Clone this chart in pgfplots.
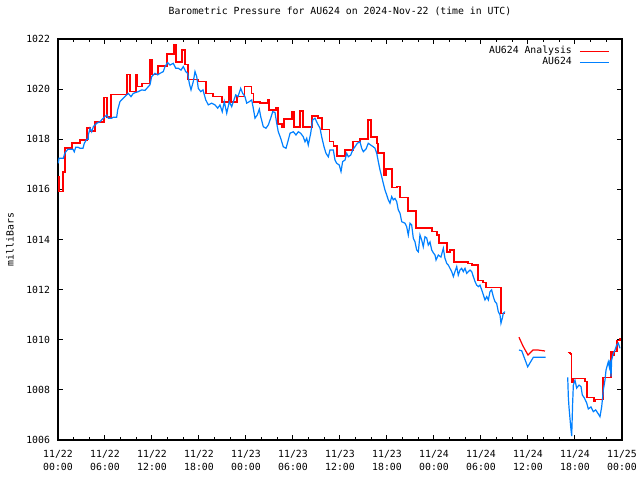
\documentclass[border=0pt]{standalone}
\usepackage{fontspec}
\setmainfont{DejaVu Sans Mono}
\usepackage{pgfplots}
\pgfplotsset{compat=1.18}
\definecolor{anared}{RGB}{255,0,0}
\definecolor{obsblue}{RGB}{0,128,255}
\begin{document}
\begin{tikzpicture}
\begin{axis}[
  at={(0pt,0pt)}, anchor=south west,
  scale only axis, width=423pt, height=300.75pt,
  xmin=0, xmax=72, ymin=1006, ymax=1022,
  xtick={0,6,...,72}, minor x tick num=2,
  xticklabels={{11/22\\00:00},{11/22\\06:00},{11/22\\12:00},{11/22\\18:00},{11/23\\00:00},{11/23\\06:00},{11/23\\12:00},{11/23\\18:00},{11/24\\00:00},{11/24\\06:00},{11/24\\12:00},{11/24\\18:00},{11/25\\00:00}},
  ytick={1006,1008,...,1022},
  yticklabels={1006,1008,1010,1012,1014,1016,1018,1020,1022},
  tick align=inside,
  major tick length=3.6pt, minor tick length=2pt,
  tick style={black, line width=0.75pt},
  axis line style={line width=0.8pt},
  font=\fontsize{7.36}{9.75}\selectfont,
  xticklabel style={align=center, yshift=-4.3pt},
  yticklabel style={xshift=-2.5pt},
  title={Barometric Pressure for AU624 on 2024-Nov-22 (time in UTC)},
  title style={at={(axis description cs:0.5,1.05)}, anchor=center},
  ylabel={milliBars},
  ylabel style={at={(axis description cs:-0.0851,0.5)}, anchor=center},
  legend plot pos=right,
  legend image code/.code={\draw[#1] (0pt,0pt) -- (22pt,0pt);},
  legend style={draw=none, fill=none, at={(axis description cs:0.9787,0.984)}, anchor=north east,
    inner sep=0pt, column sep=5pt, row sep=0pt,
    nodes={inner sep=0.5pt, text height=5.6pt, text depth=1.65pt},
    cells={anchor=east}, font=\fontsize{7.36}{9}\selectfont},
]
\addplot[const plot, anared, line width=0.9pt] coordinates {
(0,1016.49) (0.13,1015.90) (0.64,1016.69) (0.89,1017.65) (1.79,1017.85) (2.81,1017.97)
(3.70,1018.45) (4.09,1018.33) (4.72,1018.69) (5.87,1019.65) (6.26,1018.89) (6.77,1019.77)
(8.81,1020.57) (9.19,1019.89) (9.96,1020.57) (10.09,1020.09) (10.72,1020.21) (11.74,1021.16)
(12.00,1020.57) (12.77,1020.92) (13.91,1021.40) (14.81,1021.76) (15.06,1021.08) (15.83,1021.56)
(16.21,1020.97) (16.60,1020.37) (17.87,1020.29) (18.89,1019.81) (19.79,1019.69) (20.94,1019.49)
(21.83,1020.09) (22.08,1019.49) (22.85,1019.70) (23.83,1020.10) (24.73,1019.83) (24.98,1019.49)
(25.79,1019.45) (26.81,1019.57) (26.94,1019.17) (27.83,1019.25) (28.09,1018.61) (28.60,1018.49)
(28.85,1018.81) (29.87,1019.09) (30.13,1018.49) (30.89,1019.13) (31.28,1018.49) (32.43,1018.93)
(33.19,1018.85) (33.70,1018.38) (34.64,1017.90) (35.15,1017.73) (35.62,1017.33) (36.64,1017.57)
(37.66,1017.90) (38.55,1018.01) (39.57,1018.77) (39.96,1018.09) (40.72,1017.83) (40.85,1017.45)
(41.62,1016.57) (41.87,1016.81) (42.64,1016.06) (43.28,1016.10) (43.66,1015.66) (44.68,1015.14)
(45.70,1014.46) (47.74,1014.31) (48.38,1014.18) (48.64,1013.86) (49.66,1013.50) (50.04,1013.58)
(50.55,1013.10) (52.34,1013.03) (52.85,1012.98) (53.62,1012.38) (54.26,1012.30) (54.64,1012.08)
(56.55,1011.04) (57.06,1011.04)
};
\addlegendentry{AU624 Analysis}
\addplot[sharp plot, obsblue, line width=0.9pt] coordinates {
(0.04,1017.04) (0.13,1017.24) (0.68,1017.24) (0.80,1017.37) (0.98,1017.50) (1.28,1017.60)
(1.91,1017.60) (2.08,1017.50) (2.26,1017.68) (2.55,1017.68) (2.81,1017.64) (3.19,1017.64)
(3.36,1017.84) (3.66,1018.00) (3.87,1018.00) (3.87,1018.17) (4.09,1018.44) (4.30,1018.30)
(4.51,1018.50) (4.94,1018.64) (5.36,1018.70) (5.66,1018.80) (6.22,1018.97) (6.42,1018.84)
(6.86,1018.84) (7.06,1018.88) (7.49,1018.88) (7.62,1019.17) (7.91,1019.50) (8.34,1019.64)
(8.97,1019.83) (9.32,1019.70) (9.61,1019.83) (10.25,1019.90) (10.69,1019.97) (11.11,1019.95)
(11.53,1020.10) (11.74,1020.17) (11.96,1020.50) (12.38,1020.63) (12.73,1020.57) (13.02,1020.63)
(13.44,1020.70) (13.66,1020.90) (14.00,1021.06) (14.30,1020.96) (14.72,1021.03) (15.03,1020.83)
(15.36,1020.83) (15.70,1020.76) (16.00,1020.90) (16.30,1020.70) (16.56,1020.63) (16.76,1020.23)
(16.98,1019.97) (17.27,1020.30) (17.49,1020.70) (17.71,1020.50) (17.91,1020.03) (18.22,1019.90)
(18.51,1019.97) (18.86,1019.57) (19.19,1019.37) (19.62,1019.44) (20.04,1019.37) (20.39,1019.24)
(20.68,1019.37) (20.97,1019.10) (21.23,1019.50) (21.54,1019.04) (21.87,1019.50) (22.17,1019.30)
(22.38,1019.50) (22.69,1019.77) (22.98,1019.70) (23.32,1020.03) (23.58,1019.83) (23.87,1019.70)
(24.09,1019.44) (24.42,1019.50) (24.73,1019.57) (24.93,1019.24) (25.15,1018.84) (25.44,1018.97)
(25.70,1019.20) (25.88,1018.90) (26.21,1018.50) (26.55,1018.44) (26.85,1018.57) (27.15,1018.84)
(27.41,1019.10) (27.70,1019.07) (27.92,1018.64) (28.12,1018.30) (28.43,1018.04) (28.76,1017.70)
(29.11,1017.64) (29.40,1017.97) (29.62,1018.24) (30.04,1018.30) (30.38,1018.17) (30.68,1018.30)
(30.98,1018.24) (31.31,1018.10) (31.53,1017.90) (31.75,1018.04) (31.95,1017.77) (32.26,1018.24)
(32.51,1018.77) (32.81,1018.84) (33.10,1018.64) (33.45,1018.44) (33.66,1018.10) (33.96,1017.70)
(34.21,1017.44) (34.51,1017.30) (34.72,1017.57) (35.15,1017.57) (35.36,1017.17) (35.58,1017.04)
(35.91,1016.97) (36.13,1016.71) (36.34,1017.11) (36.64,1017.17) (36.86,1017.44) (37.06,1017.30)
(37.37,1017.37) (37.62,1017.57) (37.91,1017.70) (38.21,1017.84) (38.55,1017.90) (38.77,1017.64)
(38.98,1017.50) (39.32,1017.61) (39.61,1017.84) (39.92,1017.77) (40.25,1017.70) (40.47,1017.64)
(40.69,1017.44) (40.89,1017.11) (41.11,1016.77) (41.32,1016.51) (41.53,1016.24) (41.74,1015.98)
(41.96,1015.78) (42.17,1015.58) (42.38,1015.45) (42.60,1015.71) (42.80,1015.58) (43.02,1015.64)
(43.24,1015.51) (43.44,1015.18) (43.66,1015.05) (43.88,1014.71) (44.30,1014.65) (44.51,1014.51)
(44.72,1014.18) (44.94,1014.65) (45.15,1014.58) (45.36,1014.05) (45.57,1013.91) (45.79,1013.58)
(46.00,1013.51) (46.21,1014.18) (46.43,1013.98) (46.63,1013.71) (46.85,1014.11) (47.07,1014.06)
(47.27,1013.78) (47.49,1013.90) (47.71,1013.58) (47.91,1013.47) (48.13,1013.38) (48.26,1013.18)
(48.55,1013.38) (48.89,1013.30) (49.19,1013.65) (49.40,1013.25) (49.62,1013.05) (49.83,1012.98)
(50.04,1012.85) (50.26,1012.72) (50.47,1012.52) (50.68,1012.72) (50.90,1012.92) (51.10,1012.58)
(51.32,1012.78) (51.54,1012.85) (51.74,1012.72) (51.96,1012.85) (52.17,1012.65) (52.38,1012.72)
(52.60,1012.78) (52.81,1012.72) (53.02,1012.52) (53.24,1012.32) (53.45,1012.18) (53.66,1012.12)
(53.87,1012.18) (54.09,1011.99) (54.30,1011.79) (54.51,1011.59) (54.73,1011.72) (54.94,1011.59)
(55.15,1011.92) (55.36,1011.99) (55.57,1011.72) (55.79,1011.52) (56.00,1011.45) (56.21,1011.12)
(56.43,1010.99) (56.55,1010.66) (56.72,1010.86) (56.85,1011.06) (57.06,1011.12)
};
\addlegendentry{AU624}
\addplot[sharp plot, anared, line width=0.9pt, forget plot] coordinates {
(58.85,1010.10) (59.36,1009.75) (60.00,1009.39) (60.64,1009.59) (61.28,1009.59) (62.17,1009.55)
};
\addplot[sharp plot, obsblue, line width=0.9pt, forget plot] coordinates {
(58.85,1009.59) (59.20,1009.56) (59.58,1009.24) (59.96,1008.92) (60.32,1009.11) (60.68,1009.30) (62.26,1009.30)
};
\addplot[const plot, anared, line width=0.9pt, forget plot] coordinates {
(65.07,1009.50) (65.36,1009.46) (65.49,1009.41) (65.58,1008.29) (65.74,1008.46) (67.28,1008.33)
(67.53,1007.70) (68.43,1007.53) (68.55,1007.62) (69.57,1008.50) (70.60,1009.52) (70.85,1009.39)
(71.04,1009.52) (71.36,1009.96) (71.74,1010.06) (71.90,1010.06)
};
\addplot[sharp plot, obsblue, line width=0.9pt, forget plot] coordinates {
(65.07,1008.50) (65.15,1007.73) (65.23,1007.33) (65.45,1006.53) (65.58,1006.16) (65.70,1007.48)
(65.79,1008.19) (66.00,1008.39) (66.21,1008.07) (66.51,1008.19) (66.77,1008.13) (66.93,1007.80)
(67.19,1007.68) (67.49,1007.48) (67.70,1007.24) (68.04,1007.32) (68.34,1007.13) (68.64,1007.20)
(68.98,1007.04) (69.19,1006.93) (69.41,1007.33) (69.62,1008.00) (69.83,1008.39) (69.96,1008.79)
(70.25,1009.12) (70.38,1008.92) (70.47,1009.19) (70.60,1008.53) (70.68,1009.19) (70.89,1009.46)
(71.11,1009.59) (71.32,1009.79) (71.53,1009.86) (71.74,1009.66)
};
\end{axis}
\pgfresetboundingbox
\path[use as bounding box] (-43.5pt,-30pt) rectangle (436.5pt,330pt);
\end{tikzpicture}
\end{document}
